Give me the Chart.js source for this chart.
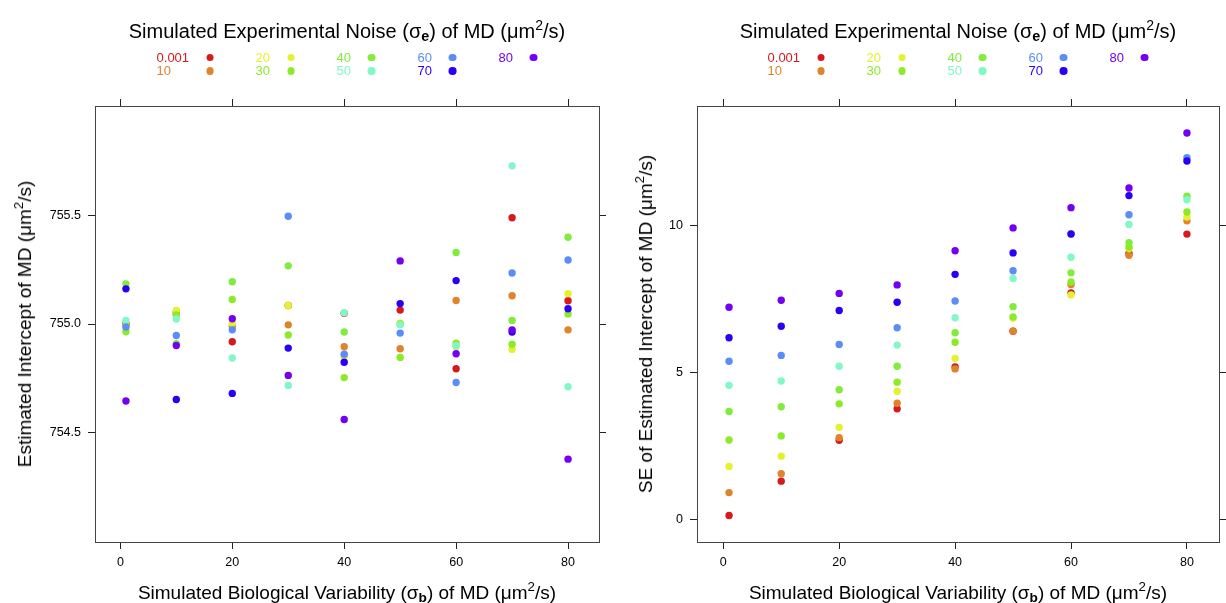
<!DOCTYPE html>
<html>
<head>
<meta charset="utf-8">
<script src="https://cdn.jsdelivr.net/npm/chart.js@4.4.1/dist/chart.umd.min.js"></script>
<style>
  html, body { margin: 0; padding: 0; background: #fff; }
  #wrap { position: relative; width: 1226px; height: 603px; overflow: hidden;
          font-family: "Liberation Sans", Arial, sans-serif; color: #000; }
  canvas { position: absolute; top: 0; }
  .ttl { position: absolute; white-space: nowrap; font-size: 20px; line-height: 24px;
         transform: translate(-50%, -50%); }
  .ttl.lab { font-size: 19px; }
  .ttl sub { font-size: 0.72em; font-weight: bold; vertical-align: -0.22em; line-height: 0; }
  .ttl sup { font-size: 0.7em; vertical-align: 0.6em; line-height: 0; }
  .ttl.ylab { transform: translate(-50%, -50%) rotate(-90deg); }
  .key { position: absolute; display: flex; gap: 42px; transform: translateX(-50%); font-size: 13px; }
  .kcol { display: grid; grid-template-columns: auto 7.5px; column-gap: 17px;
          grid-auto-rows: 13.3px; align-items: center; }
  .dot { width: 7.5px; height: 7.5px; border-radius: 50%; }
</style>
</head>
<body>
<div id="wrap">
  <canvas id="cInt" width="613" height="603" style="left:0"></canvas>
  <canvas id="cSe" width="613" height="603" style="left:613px"></canvas>
</div>
<script>
// x: simulated biological variability, series: simulated experimental noise
const SIGMA_B = [1, 10, 20, 30, 40, 50, 60, 70, 80];
const NOISE = ["0.001", "10", "20", "30", "40", "50", "60", "70", "80"];
const NOISE_COLORS = ["#D7191C", "#E0832A", "#E3F22C", "#8CEB28", "#82EC3C",
                      "#80F8C8", "#5B8DF8", "#2A00F5", "#7300F5"];
const X_TICKS = [0, 20, 40, 60, 80];
const X_RANGE = [-4.53, 85.53];

// estimated intercept
const INT_TICKS = [754.5, 755.0, 755.5];
const INT_RANGE = [753.995, 756.005];
const INT_0001 = [755.00, 755.055, 754.918, 755.085, 755.05, 755.064, 754.794, 755.49, 755.107];
const INT_10 = [755.00, 755.045, 754.99, 754.996, 754.895, 754.886, 755.108, 755.13, 754.973];
const INT_20 = [754.99, 755.062, 755.004, 755.085, 754.85, 755.004, 754.895, 754.883, 755.14];
const INT_30 = [754.964, 755.042, 755.113, 754.949, 754.753, 754.846, 754.912, 754.907, 755.046];
const INT_40 = [755.185, 754.909, 755.195, 755.268, 754.963, 755.0, 755.33, 755.016, 755.40];
const INT_50 = [755.016, 755.023, 754.843, 754.717, 755.052, 754.996, 754.90, 755.729, 754.711];
const INT_60 = [754.986, 754.947, 754.973, 755.497, 754.861, 754.958, 754.73, 755.235, 755.295];
const INT_70 = [755.162, 754.652, 754.68, 754.889, 754.824, 755.094, 755.2, 754.963, 755.07];
const INT_80 = [754.645, 754.901, 755.024, 754.763, 754.56, 755.291, 754.863, 754.973, 754.377];

// SE of estimated intercept
const SE_TICKS = [0, 5, 10];
const SE_RANGE = [-0.772, 14.07];
const SE_0001 = [0.13, 1.30, 2.69, 3.76, 5.19, 6.40, 7.71, 9.05, 9.71];
const SE_10 = [0.91, 1.55, 2.78, 3.95, 5.12, 6.40, 7.99, 8.99, 10.16];
const SE_20 = [1.80, 2.15, 3.13, 4.36, 5.48, 6.85, 7.64, 9.22, 10.29];
const SE_30 = [2.70, 2.84, 3.93, 4.67, 6.03, 6.89, 8.08, 9.27, 10.46];
const SE_40 = [3.67, 3.83, 4.41, 5.21, 6.35, 7.24, 8.39, 9.42, 11.0];
const SE_50 = [4.56, 4.71, 5.21, 5.93, 6.86, 8.20, 8.92, 10.04, 10.88];
const SE_60 = [5.38, 5.58, 5.95, 6.52, 7.43, 8.46, 9.72, 10.37, 12.31];
const SE_70 = [6.18, 6.57, 7.11, 7.39, 8.34, 9.07, 9.71, 11.02, 12.20];
const SE_80 = [7.22, 7.46, 7.69, 7.98, 9.14, 9.92, 10.61, 11.28, 13.15];

const INT_SERIES = [INT_0001, INT_10, INT_20, INT_30, INT_40, INT_50, INT_60, INT_70, INT_80];
const SE_SERIES = [SE_0001, SE_10, SE_20, SE_30, SE_40, SE_50, SE_60, SE_70, SE_80];

const FONT = '"Liberation Sans", Arial, sans-serif';
const KEY_TITLE = 'Simulated Experimental Noise (σ<sub>e</sub>) of MD (μm<sup>2</sup>/s)';
const X_TITLE = 'Simulated Biological Variability (σ<sub>b</sub>) of MD (μm<sup>2</sup>/s)';
const wrap = document.getElementById("wrap");

function axis(position, range, ticks, size, labels, fmt, pad) {
  return {
    type: "linear", position, min: range[0], max: range[1],
    afterBuildTicks: (s) => { s.ticks = ticks.map((v) => ({ value: v })); },
    afterFit: (s) => { if (s.isHorizontal()) s.height = size; else s.width = size; },
    grid: { drawOnChartArea: false, drawTicks: true, tickLength: 7, color: "#222", lineWidth: 1 },
    border: { display: true, color: "#444", width: 1 },
    ticks: { display: labels, color: "#000", font: { family: FONT, size: 12.5 }, padding: pad,
             autoSkip: false, maxRotation: 0, callback: fmt },
  };
}

function addText(html, x, y, cls) {
  const d = document.createElement("div");
  d.className = "ttl" + (cls ? " " + cls : "");
  d.innerHTML = html;
  d.style.left = x + "px"; d.style.top = y + "px";
  wrap.appendChild(d);
}

function addKey(cx) {
  const key = document.createElement("div");
  key.className = "key";
  key.style.left = cx + "px"; key.style.top = "51px";
  for (let c = 0; c < NOISE.length; c += 2) {
    const col = document.createElement("div");
    col.className = "kcol";
    for (let i = c; i < Math.min(c + 2, NOISE.length); i++) {
      const t = document.createElement("span");
      t.textContent = NOISE[i]; t.style.color = NOISE_COLORS[i];
      const dot = document.createElement("span");
      dot.className = "dot"; dot.style.background = NOISE_COLORS[i];
      col.appendChild(t); col.appendChild(dot);
    }
    key.appendChild(col);
  }
  wrap.appendChild(key);
}

function panel(id, offset, series, yRange, yTicks, yFmt, sizes, yTitle, yTitleX) {
  const chart = new Chart(document.getElementById(id), {
    type: "scatter",
    data: {
      datasets: NOISE.map((n, i) => ({
        label: n,
        data: SIGMA_B.map((x, j) => ({ x, y: series[i][j] })),
        backgroundColor: NOISE_COLORS[i], borderWidth: 0,
        pointRadius: 3.7, pointHoverRadius: 3.7, order: NOISE.length - i,
      })),
    },
    options: {
      responsive: false, animation: false, events: [], devicePixelRatio: 1,
      layout: { padding: 0 },
      plugins: { legend: { display: false }, tooltip: { enabled: false } },
      scales: {
        x: axis("bottom", X_RANGE, X_TICKS, sizes.bottom, true, (v) => v, 6),
        x2: axis("top", X_RANGE, X_TICKS, sizes.top, false, (v) => v, 0),
        y: axis("left", yRange, yTicks, sizes.left, true, yFmt, 7),
        y2: axis("right", yRange, yTicks, sizes.right, false, yFmt, 0),
      },
    },
  });
  const a = chart.chartArea;
  const cx = offset + (a.left + a.right) / 2;
  addText(KEY_TITLE, cx, 31);
  addKey(cx);
  addText(X_TITLE, cx, 592.5, "lab");
  addText(yTitle, offset + yTitleX, (a.top + a.bottom) / 2, "lab ylab");
}

panel("cInt", 0, INT_SERIES, INT_RANGE, INT_TICKS, (v) => v.toFixed(1),
      { left: 95, right: 14, top: 106, bottom: 61 },
      'Estimated Intercept of MD (μm<sup>2</sup>/s)', 25);
panel("cSe", 613, SE_SERIES, SE_RANGE, SE_TICKS, (v) => v,
      { left: 84, right: 7, top: 106, bottom: 61 },
      'SE of Estimated Intercept of MD (μm<sup>2</sup>/s)', 32.5);
</script>
</body>
</html>
